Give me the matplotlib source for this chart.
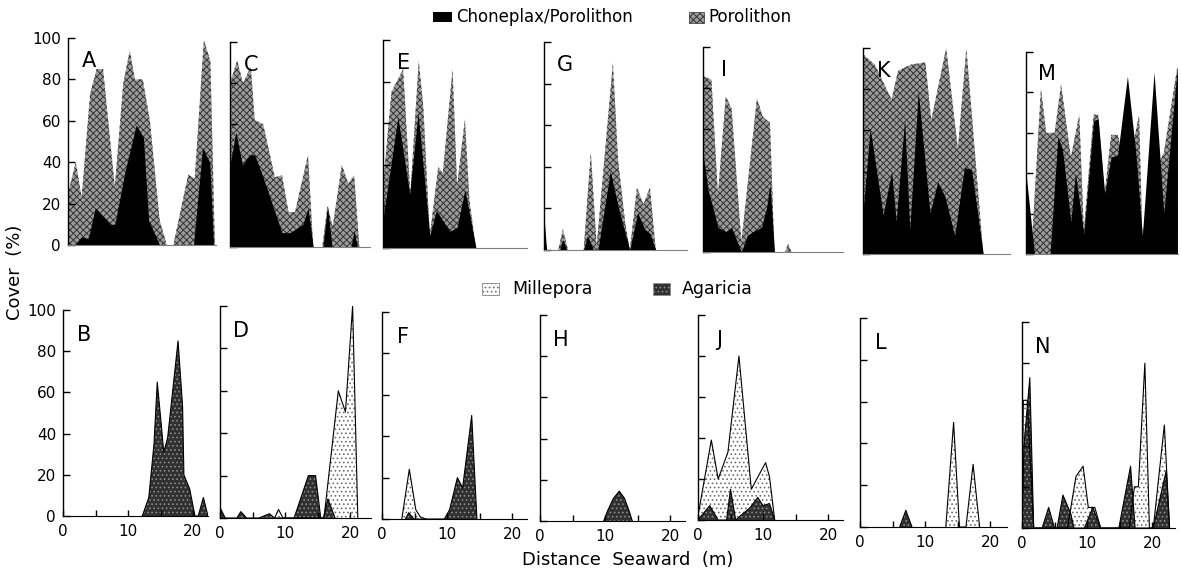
import matplotlib

matplotlib.use("Agg")
import matplotlib.pyplot as plt
from matplotlib.patches import Rectangle


W, H = 1181, 569
PX_PER_M = 6.5

# cover profiles, (distance seaward in m, cover in %)
A_POROLITHON = [(0, 25), (1.2, 40), (2.1, 23), (3.4, 73), (4.4, 85), (5.4, 85), (7.2, 28), (8.5, 78), (9.5, 94),
                (10.3, 80), (11.5, 80), (12.6, 60), (14.1, 12), (15.2, 0), (16.2, 0), (18.5, 34), (19.5, 32),
                (20.9, 99), (21.9, 89), (22.6, 0)]
A_CHONEPLAX = [(1.1, 0), (2.1, 4), (3.1, 3), (4.2, 18), (6.5, 10), (7.2, 10), (8.8, 36), (10.5, 58), (11.6, 52),
               (12.4, 12), (14.1, 0), (19.3, 0), (20.7, 47), (21.8, 40), (22.4, 0)]
C_POROLITHON = [(0, 80), (1.1, 91), (2.0, 80), (3.2, 88), (3.8, 62), (5.1, 60), (6.9, 34), (8.0, 35), (9.0, 17),
                (10.0, 17), (12.0, 45), (12.8, 0), (14.2, 0), (15.0, 20), (15.8, 10), (17.2, 40), (18.2, 31),
                (19.1, 35), (19.9, 0)]
C_CHONEPLAX = [(0, 40), (0.9, 56), (1.9, 40), (3.0, 45), (3.8, 45), (5.1, 34), (6.6, 20), (8.0, 7), (9.2, 7),
               (11.2, 11), (12.0, 19), (12.8, 0), (14.3, 0), (15.0, 20), (15.7, 0), (18.6, 0), (19.1, 8), (19.6, 0)]
E_POROLITHON = [(0, 30), (1.3, 75), (3.1, 86), (4.2, 26), (5.5, 90), (6.2, 68), (7.2, 6), (8.5, 39), (9.2, 36),
                (10.7, 86), (11.4, 30), (12.6, 62), (13.3, 23), (14.3, 0)]
E_CHONEPLAX = [(0, 14), (2.3, 63), (4.1, 26), (5.4, 65), (7.2, 6), (8.2, 18), (10.3, 8), (11.4, 10), (12.6, 28),
               (14.3, 0)]
G_POROLITHON = [(0, 16), (0.4, 0), (2.2, 0), (2.9, 10), (3.7, 0), (6.1, 0), (7.2, 47), (8.1, 2), (10.6, 90),
                (11.4, 43), (12.5, 13), (13.2, 0), (14.3, 30), (15.3, 22), (16.3, 30), (17.2, 0)]
G_CHONEPLAX = [(0, 16), (0.4, 0), (2.4, 0), (2.9, 5), (3.5, 0), (6.1, 0), (6.7, 7), (7.6, 0), (8.3, 0), (10.2, 38),
               (11.4, 21), (12.5, 8), (13.2, 0), (14.4, 18), (15.5, 10), (16.3, 8), (17.2, 0)]
I_POROLITHON = [(0, 86), (1.3, 84), (2.3, 28), (3.5, 76), (4.4, 70), (5.9, 5), (8.3, 75), (9.2, 66), (10.3, 63),
                (11.0, 0), (12.6, 0), (13.1, 4), (13.6, 0)]
I_CHONEPLAX = [(0, 48), (0.8, 30), (1.5, 22), (2.3, 12), (3.5, 10), (4.4, 12), (5.9, 0), (6.8, 8), (7.7, 10),
               (9.0, 12), (9.8, 22), (10.3, 33), (11.0, 0)]
K_POROLITHON = [(0, 97), (1.8, 92), (4.4, 75), (5.4, 89), (7.4, 92), (9.6, 93), (10.5, 65), (12.8, 100),
                (14.6, 51), (15.9, 100), (18.5, 0)]
K_CHONEPLAX = [(0, 20), (1.1, 61), (3.1, 19), (4.4, 40), (5.1, 16), (6.4, 65), (7.2, 12), (8.5, 79), (10.3, 20),
               (11.5, 35), (12.6, 28), (14.1, 9), (15.6, 42), (16.7, 41), (18.5, 0)]
M_POROLITHON = [(0.8, 0), (2.3, 82), (3.1, 60), (4.4, 60), (5.4, 84), (6.9, 48), (8.2, 69), (8.9, 12), (10.4, 69),
                (11.1, 69), (12.1, 30), (13.1, 59), (14.1, 59), (15.6, 40), (17.4, 69), (17.9, 9), (19.7, 40),
                (21.2, 50), (23.3, 93)]
M_CHONEPLAX = [(0, 40), (1.3, 0), (3.7, 0), (4.9, 58), (5.6, 52), (6.9, 16), (7.6, 40), (8.9, 10), (10.4, 66),
               (11.1, 67), (12.1, 30), (13.1, 48), (14.1, 49), (15.6, 88), (16.9, 50), (17.9, 9), (19.7, 90),
               (21.2, 20), (23.3, 93)]

B_MILLEPORA = []
B_AGARICIA = [(12.2, 0), (13.2, 9), (14.0, 35), (14.5, 65), (15.1, 45), (15.5, 31), (16.1, 38), (17.7, 85),
              (18.4, 53), (18.6, 20), (19.5, 13), (20.3, 0), (20.8, 0), (21.6, 9), (22.3, 0)]
D_MILLEPORA = [(8.4, 0), (9.0, 4), (9.7, 0), (16.0, 0), (18.2, 60), (19.3, 50), (20.4, 100), (21.2, 0)]
D_AGARICIA = [(0, 5), (0.8, 0), (2.6, 0), (3.2, 3), (4.1, 0), (6.0, 0), (7.6, 2), (8.4, 0), (11.4, 0), (13.6, 20),
              (14.7, 20), (15.5, 0), (15.9, 0), (16.6, 9), (17.7, 0)]
F_MILLEPORA = [(3.05, 0), (4.2, 24), (5.2, 4.5), (5.9, 1), (6.7, 0)]
F_AGARICIA = [(3.6, 0), (4.1, 3), (4.9, 0), (9.6, 0), (10.4, 4.5), (11.6, 20), (12.4, 15), (13.8, 50), (14.6, 0)]
H_MILLEPORA = []
H_AGARICIA = [(9.8, 0), (10.4, 5), (11.3, 11), (12.2, 14.5), (13.0, 11), (13.7, 5), (14.2, 0)]
J_MILLEPORA = [(0, 2), (2.05, 39), (3.1, 20), (4.6, 33), (6.3, 80), (8.2, 15), (10.4, 28), (11.0, 21), (11.8, 0)]
J_AGARICIA = [(0, 0), (1.8, 7), (3.1, 0), (4.4, 0), (5.0, 15), (5.8, 0), (6.5, 2), (8.0, 6), (9.2, 11), (10.0, 7),
              (11.0, 8), (11.8, 0)]
L_MILLEPORA = [(13.2, 0), (14.4, 50), (15.3, 0), (16.3, 0), (17.4, 30), (18.4, 0)]
L_AGARICIA = [(6.1, 0), (7.05, 8), (8.0, 0)]
N_MILLEPORA = [(0, 0), (0.2, 62), (0.8, 62), (1.8, 0), (7.0, 0), (8.3, 25), (9.4, 30), (10.2, 10), (11.2, 10),
               (12.1, 0), (16.5, 0), (17.3, 20), (17.9, 20), (18.9, 80), (19.6, 0), (20.2, 0), (21.9, 50), (22.7, 0)]
N_AGARICIA = [(0, 0), (0.3, 40), (1.2, 73), (1.8, 0), (3.1, 0), (4.1, 10), (5.0, 0), (5.4, 0), (6.3, 16), (7.5, 7),
              (8.0, 0), (9.6, 0), (10.9, 10), (12.1, 0), (14.9, 0), (16.7, 30), (17.4, 0), (20.2, 0), (22.2, 28),
              (22.7, 0)]

Y_TICKS = [0, 20, 40, 60, 80, 100]
X_TICKS = [0, 10, 20]

PORO_STYLE = dict(facecolor="#9c9c9c", edgecolor="#333333", hatch="xxxxx", linewidth=0)
CHON_STYLE = dict(facecolor="black", edgecolor="black", linewidth=0)
MILL_STYLE = dict(facecolor="white", edgecolor="#6e6e6e", hatch="....", linewidth=0)
AGAR_STYLE = dict(facecolor="#303030", edgecolor="#8c8c8c", hatch="....", linewidth=0)

# letter, back series, front series, axis x px, zero y px, 100 % y px, x extent (m)
TOP_PANELS = [
    ("A", A_POROLITHON, A_CHONEPLAX, 68, 245, 38, 22.8),
    ("C", C_POROLITHON, C_CHONEPLAX, 230, 247, 42, 21.5),
    ("E", E_POROLITHON, E_CHONEPLAX, 383, 248, 40, 22.2),
    ("G", G_POROLITHON, G_CHONEPLAX, 544, 250, 42, 22.0),
    ("I", I_POROLITHON, I_CHONEPLAX, 703, 252, 47, 21.5),
    ("K", K_POROLITHON, K_CHONEPLAX, 863, 254, 48, 22.6),
    ("M", M_POROLITHON, M_CHONEPLAX, 1026, 254, 52, 23.4),
]
BOTTOM_PANELS = [
    ("B", B_MILLEPORA, B_AGARICIA, 63, 516, 310, 22.3),
    ("D", D_MILLEPORA, D_AGARICIA, 220, 518, 306, 23.2),
    ("F", F_MILLEPORA, F_AGARICIA, 382, 519, 312, 22.3),
    ("H", H_MILLEPORA, H_AGARICIA, 540, 521, 315, 22.3),
    ("J", J_MILLEPORA, J_AGARICIA, 698, 520, 315, 22.3),
    ("L", L_MILLEPORA, L_AGARICIA, 860, 527, 318, 22.6),
    ("N", N_MILLEPORA, N_AGARICIA, 1022, 528, 322, 23.6),
]


def _make_axes(fig, x0, y0, y100, xmax):
    ax = fig.add_axes([x0 / W, 1 - y0 / H, xmax * PX_PER_M / W, (y0 - y100) / H])
    ax.set_facecolor("none")
    ax.set_xlim(0, xmax)
    ax.set_ylim(0, 100)
    ax.spines[["top", "right"]].set_visible(False)
    ax.spines["left"].set_linewidth(1.0)
    ax.set_yticks(Y_TICKS)
    ax.tick_params(axis="y", direction="in", length=5, width=1, labelsize=11, pad=5)
    return ax


def _fill(ax, points, style, outline=False):
    if not points:
        return
    xs, ys = zip(*points)
    ax.fill_between(xs, ys, 0, **style)
    if outline:
        ax.plot(xs, ys, color="black", linewidth=0.8)


def _add_key(fig, x, y, w, h, style, label, text_x, size):
    rect = Rectangle((x / W, 1 - (y + h) / H), w / W, h / H, transform=fig.transFigure, **style)
    fig.add_artist(rect)
    fig.text(text_x / W, 1 - (y + h / 2) / H, label, fontsize=size, ha="left", va="center")


def main() -> int:
    plt.rcParams["hatch.linewidth"] = 0.7
    fig = plt.figure(figsize=(W / 100, H / 100), dpi=100)

    for i, (letter, back, front, x0, y0, y100, xmax) in enumerate(TOP_PANELS):
        ax = _make_axes(fig, x0, y0, y100, xmax)
        _fill(ax, back, PORO_STYLE)
        _fill(ax, front, CHON_STYLE)
        ax.set_xticks([])
        ax.spines["bottom"].set_color("#808080")
        ax.tick_params(axis="y", labelleft=(i == 0))
        ax.text(3.2, 89, letter, fontsize=15, ha="center", va="center")

    for i, (letter, back, front, x0, y0, y100, xmax) in enumerate(BOTTOM_PANELS):
        ax = _make_axes(fig, x0, y0, y100, xmax)
        _fill(ax, back, MILL_STYLE, outline=True)
        _fill(ax, front, AGAR_STYLE, outline=True)
        ax.set_xticks(X_TICKS)
        ax.set_xticks([5, 15], minor=True)
        ax.tick_params(axis="x", which="both", direction="in", length=4, width=1, labelsize=11, pad=6)
        ax.tick_params(axis="y", labelleft=(i == 0))
        ax.text(3.2, 88, letter, fontsize=15, ha="center", va="center")

    _add_key(fig, 433, 12, 19, 10, CHON_STYLE, "Choneplax/Porolithon", 456, 12)
    _add_key(fig, 689, 12, 15, 11, dict(PORO_STYLE, linewidth=0.5), "Porolithon", 708, 12)
    _add_key(fig, 482, 283, 17, 12, dict(MILL_STYLE, linewidth=0.5), "Millepora", 512, 12.5)
    _add_key(fig, 653, 283, 17, 12, dict(AGAR_STYLE, linewidth=0.5), "Agaricia", 682, 12.5)

    fig.text(15 / W, 1 - 272 / H, "Cover  (%)", rotation=90, fontsize=13, ha="center", va="center")
    fig.text(628 / W, 1 - 560 / H, "Distance  Seaward  (m)", fontsize=13, ha="center", va="center")

    fig.savefig("out.png", dpi=100)
    plt.close(fig)
    return 0


if __name__ == "__main__":
    raise SystemExit(main())
